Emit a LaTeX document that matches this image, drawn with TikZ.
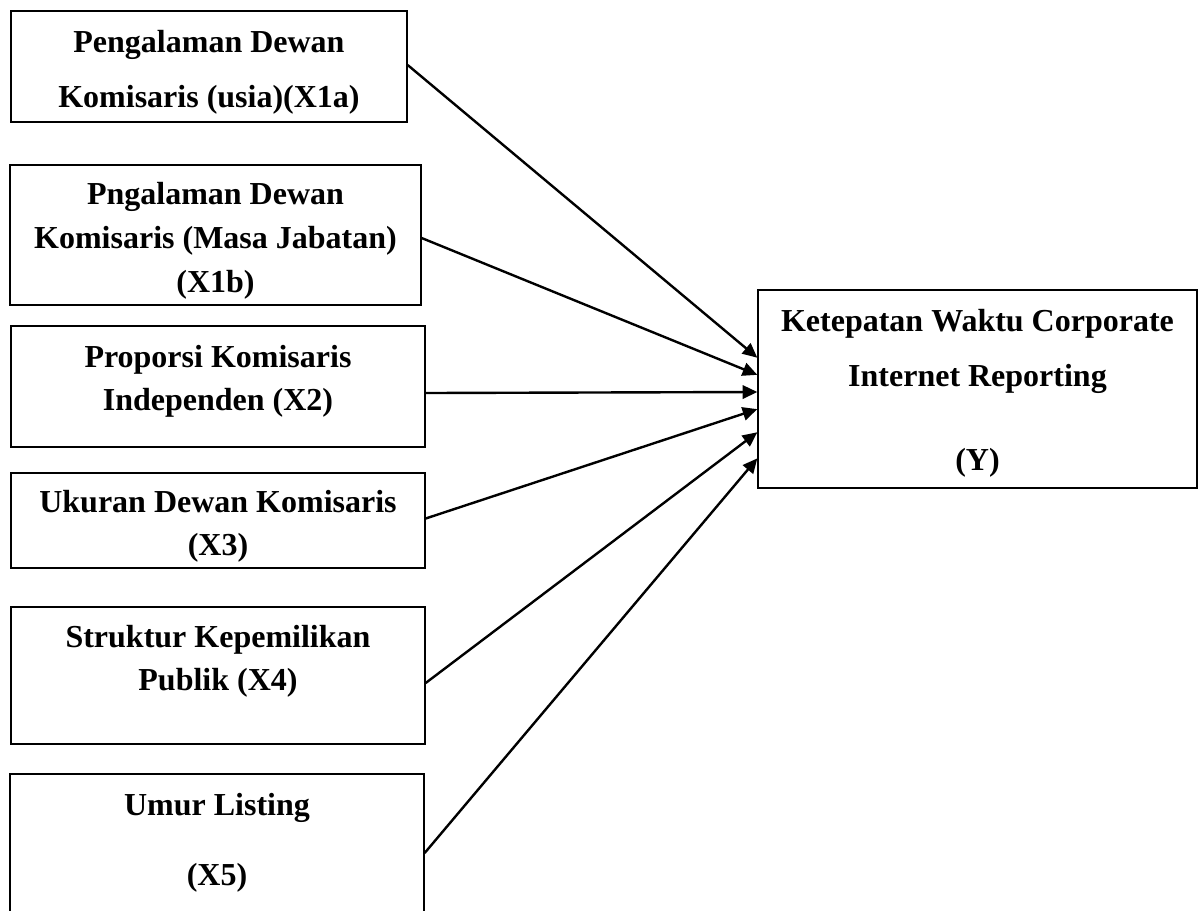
\documentclass[tikz,border=0pt]{standalone}
\usepackage{fontspec}
\setmainfont{Liberation Serif}
\usetikzlibrary{positioning, calc, fit, arrows.meta}
\tikzstyle{varBox}=[draw, line width=0.5pt, inner sep=0pt]
\tikzstyle{varLabel}=[anchor=base, align=center, inner sep=0pt, font=\bfseries\fontsize{12pt}{16pt}\selectfont]
\tikzstyle{arrow}=[-{Triangle[length=5.5pt,width=5pt]}, line width=0.9pt]
\begin{document}
\begin{tikzpicture}[x=0.375pt, y=-0.375pt]
  \useasboundingbox (0,0) rectangle (1202,910);
  % independent variables
  \node[varBox, fit={(11,11) (407,122)}] (x1a) {};
  \node[varLabel] (x1aText) at (209,107) {Pengalaman Dewan\\[4.6pt]Komisaris (usia)(X1a)};
  \node[varBox, fit={(10,165) (421,305)}] (x1b) {};
  \node[varLabel] (x1bText) at (215.5,292) {Pngalaman Dewan\\[0.5pt]Komisaris (Masa Jabatan)\\[0.5pt](X1b)};
  \node[varBox, fit={(11,326) (425,447)}] (x2) {};
  \node[varLabel] (x2Text) at (218,410) {Proporsi Komisaris\\Independen (X2)};
  \node[varBox, fit={(11,473) (425,568)}] (x3) {};
  \node[varLabel] (x3Text) at (218,555) {Ukuran Dewan Komisaris\\(X3)};
  \node[varBox, fit={(11,607) (425,744)}] (x4) {};
  \node[varLabel] (x4Text) at (218,690) {Struktur Kepemilikan\\Publik (X4)};
  \node[varBox, fit={(10,774) (424,932)}] (x5) {};
  \node[varLabel] (x5Text) at (217,885) {Umur Listing\\[10.25pt](X5)};
  % dependent variable
  \node[varBox, fit={(758,290) (1197,488)}] (yvar) {};
  \node[varLabel] (yvarText) at (977.5,470) {Ketepatan Waktu Corporate\\[4.6pt]Internet Reporting\\[15.5pt](Y)};
  % connectors
  \foreach \src/\dy/\pos in {x1a/-1.5/0.343, x1b/3/0.429, x2/6.5/0.515, x3/-2/0.601, x4/7.5/0.717, x5/0/0.848}
    \draw[arrow] ($(\src.east)+(0,\dy)$) -- ($(yvar.north west)!\pos!(yvar.south west)$);
\end{tikzpicture}
\end{document}
